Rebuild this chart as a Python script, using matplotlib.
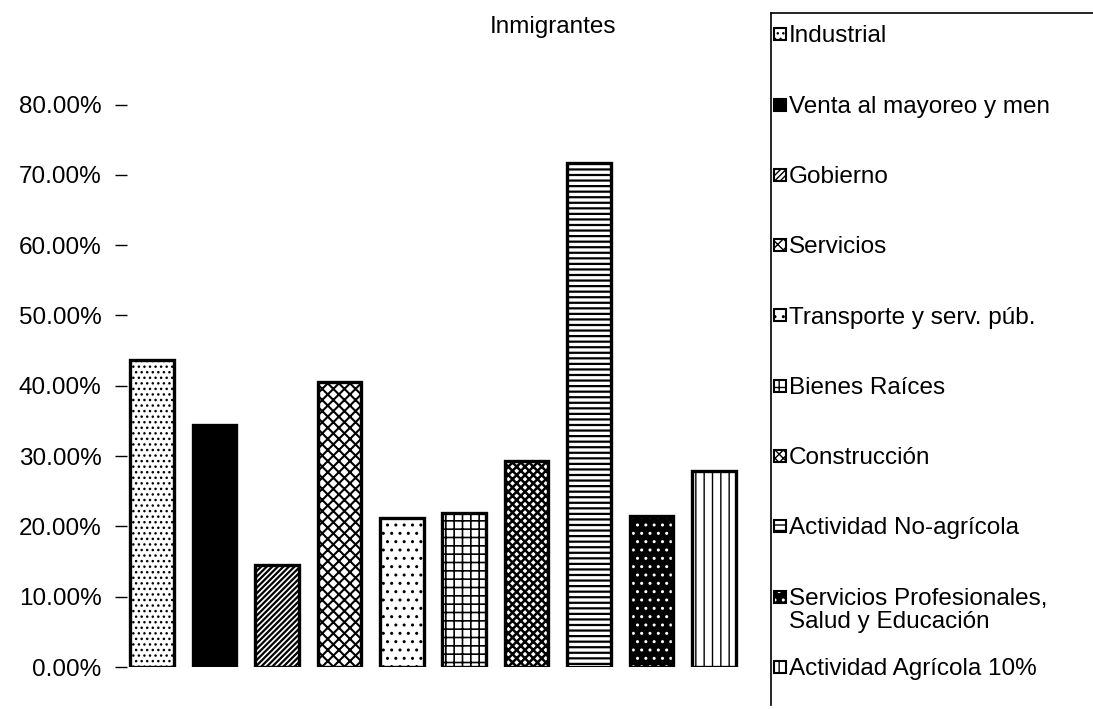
import matplotlib

matplotlib.use("Agg")

import matplotlib.pyplot as plt
from matplotlib.patches import Rectangle

plt.rcParams["font.family"] = ["Liberation Sans", "DejaVu Sans"]

title = "Inmigrantes"
categories = [
    "Industrial",
    "Venta al mayoreo y men",
    "Gobierno",
    "Servicios",
    "Transporte y serv. púb.",
    "Bienes Raíces",
    "Construcción",
    "Actividad No-agrícola",
    "Servicios Profesionales,\nSalud y Educación",
    "Actividad Agrícola 10%",
]
values = [43.7, 34.4, 14.5, 40.5, 21.2, 21.9, 29.3, 71.7, 21.5, 27.9]
y_ticks = [0, 10, 20, 30, 40, 50, 60, 70, 80]

# fill, hatch colour, hatch, hatch linewidth for each bar (black & white print look)
styles = [
    ("white", "black", "...", 1.0),
    ("black", "black", "", 1.0),
    ("white", "black", "//////", 1.6),
    ("white", "black", "xxx", 1.5),
    ("white", "black", "..", 1.0),
    ("white", "black", "++", 1.2),
    ("white", "black", "xxxx", 1.8),
    ("white", "black", "---", 1.6),
    ("black", "white", "..", 1.0),
    ("white", "black", "||", 1.0),
]

FS = 17.5
W, H = 1093, 709
fig = plt.figure(figsize=(W / 100, H / 100), dpi=100)

# main axes: 0% at y=667px, 7.03 px per percent
px_per = 7.03
y0 = 667
ymax = 93
ax = fig.add_axes([121 / W, (H - y0) / H, 624 / W, ymax * px_per / H])
x = list(range(len(values)))
for xi, v, (fc, hc, hatch, hlw) in zip(x, values, styles):
    with plt.rc_context({"hatch.linewidth": hlw}):
        ax.bar(xi, v, width=0.7, color=fc, edgecolor=hc, hatch=hatch, linewidth=0)
    ax.bar(xi, v, width=0.7, facecolor="none", edgecolor="black", linewidth=2.4)
ax.set_xlim(-0.5, 9.5)
ax.set_ylim(0, ymax)
ax.set_yticks(y_ticks)
ax.set_yticklabels([f"{t:.2f}%" for t in y_ticks], fontsize=FS)
ax.tick_params(axis="y", direction="inout", length=8, width=1, pad=10)
ax.set_xticks([])
for s in ax.spines.values():
    s.set_visible(False)

fig.text(553 / W, 1 - 27 / H, title, ha="center", va="center", fontsize=FS)

# legend panel, same vertical scale as the bars
bottom_px = 705
top_px = 13
lax = fig.add_axes([771 / W, (H - bottom_px) / H, (W - 771) / W, (bottom_px - top_px) / H])
lax.set_xlim(0, W - 771)
lax.set_ylim((y0 - bottom_px) / px_per, (y0 - top_px) / px_per)
lax.set_xticks([])
lax.set_yticks([])
lax.spines["right"].set_visible(False)
lax.spines["bottom"].set_visible(False)
lax.spines["left"].set_linewidth(1.2)
lax.spines["top"].set_linewidth(1.2)

sq = 12 / px_per
top_off = 0.37 * FS * 100 / 72 / px_per
for i, (label, (fc, hc, hatch, hlw)) in enumerate(zip(categories, styles)):
    yy = 90 - 10 * i
    lax.add_patch(Rectangle((3, yy - sq / 2), 12, sq, facecolor=fc, edgecolor=hc,
                            hatch=hatch, linewidth=0))
    lax.add_patch(Rectangle((3, yy - sq / 2), 12, sq, facecolor="none",
                            edgecolor="black", linewidth=1.5))
    lax.text(18, yy + top_off, label, ha="left", va="top", fontsize=FS,
             linespacing=1.1, clip_on=True)

fig.savefig("out.png", dpi=100)
